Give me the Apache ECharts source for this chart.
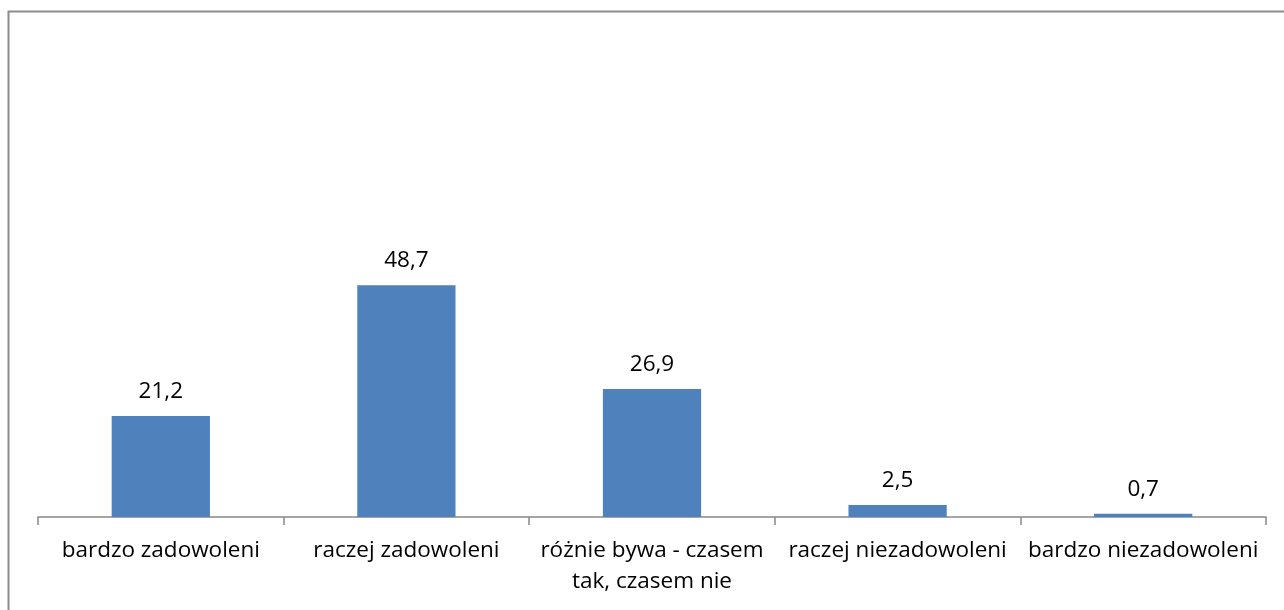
<!DOCTYPE html>
<html><head><meta charset="utf-8">
<script src="https://cdn.jsdelivr.net/npm/echarts@6/dist/echarts.min.js"></script>
<style>html,body{margin:0;padding:0;background:#fff}#c{width:1284px;height:610px}</style>
</head><body><div id="c"></div>
<script>
const categories = ["bardzo zadowoleni", "raczej zadowoleni", "różnie bywa - czasem\ntak, czasem nie", "raczej niezadowoleni", "bardzo niezadowoleni"];
const values = [21.2, 48.7, 26.9, 2.5, 0.7];

const chart = echarts.init(document.getElementById('c'));
chart.setOption({
  animation: false,
  backgroundColor: '#fff',
  graphic: [{
    type: 'rect', shape: {x: 8.5, y: 11.5, width: 1300, height: 700},
    style: {fill: 'none', stroke: '#8c8c8c', lineWidth: 2}, silent: true, z: -1
  }],
  grid: {left: 38, right: 18, top: 41, bottom: 93},
  xAxis: {
    type: 'category', data: categories,
    axisLine: {lineStyle: {color: '#888', width: 1.5}},
    axisTick: {show: true, length: 8, lineStyle: {color: '#888', width: 1.5}},
    axisLabel: {color: '#000', fontFamily: 'Open Sans', fontSize: 22.5, margin: 18, lineHeight: 31, interval: 0}
  },
  yAxis: {type: 'value', min: 0, max: 100, show: false, splitLine: {show: false}},
  series: [{
    type: 'bar', data: values, barWidth: '40%',
    itemStyle: {color: '#4F81BD'},
    label: {show: true, position: 'top', distance: 13, color: '#000', fontFamily: 'Open Sans', fontSize: 22.5,
      formatter: p => String(p.value).replace('.', ',')}
  }]
});
</script></body></html>
